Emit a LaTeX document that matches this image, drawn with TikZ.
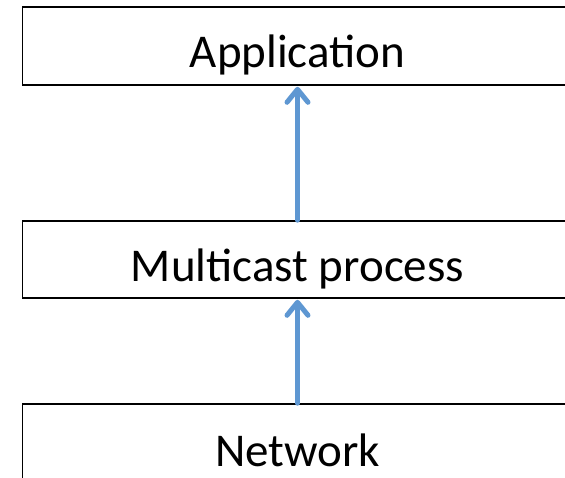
\documentclass[tikz,border=0pt]{standalone}
\usepackage{fontspec}
\setmainfont{Carlito}
\usetikzlibrary{arrows.meta}
\definecolor{flowblue}{RGB}{94,151,210}
\tikzset{
  layer/.style={draw=black, line width=1.6pt, minimum width=550pt, inner sep=0pt},
  layertext/.style={anchor=base, inner sep=0pt, font=\fontsize{47}{56}\selectfont},
  flow/.style={draw=flowblue, line width=5pt, line cap=round,
    -{Straight Barb[length=13pt, width=21pt, line cap=round, line join=round]}}
}
\begin{document}
\begin{tikzpicture}[x=1pt, y=-1pt]
  \useasboundingbox (0,0) rectangle (565,478);
  % protocol layers, stacked top to bottom
  \node[layer, minimum height=78pt] (app) at (297.5,46) {};
  \node[layer, minimum height=77pt] (mc)  at (297.5,259.5) {};
  \node[layer, minimum height=80pt] (net) at (297.5,444) {};
  \node[layertext] (apptxt) at (297.5,68) {Application};
  \node[layertext] (mctxt)  at (297.5,282) {Multicast process};
  \node[layertext] (nettxt) at (297.5,466) {Network};
  % upward flow between layers
  \draw[flow] (net.north) -- ([yshift=-1pt]mc.south);
  \draw[flow] (mc.north) -- ([yshift=-1pt]app.south);
\end{tikzpicture}
\end{document}
